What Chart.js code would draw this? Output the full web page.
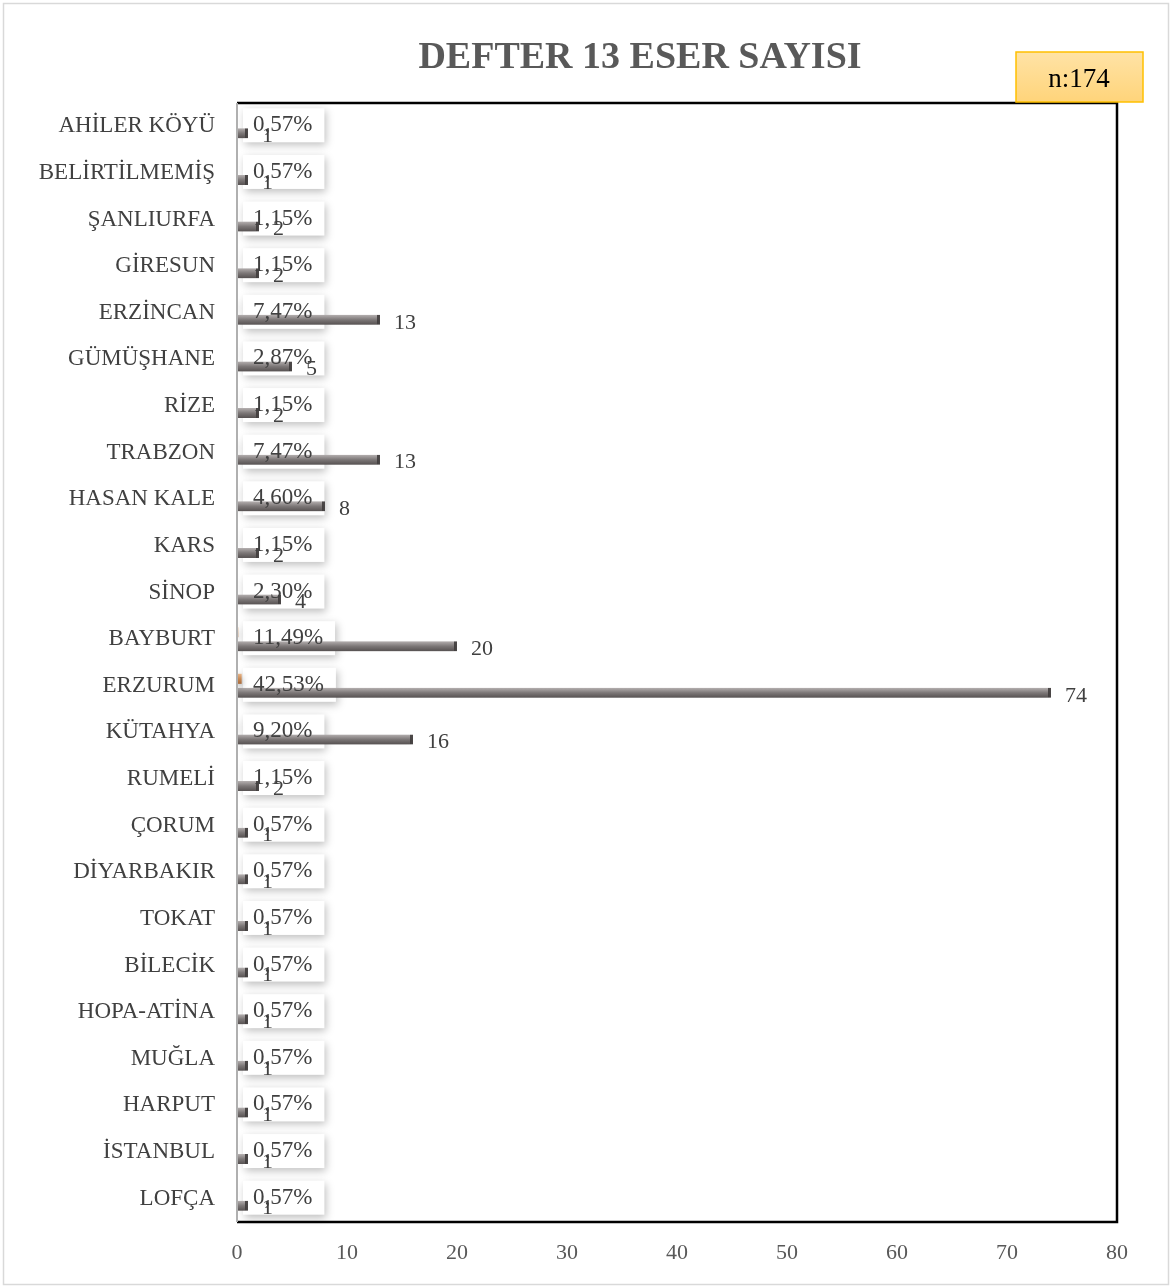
<!DOCTYPE html>
<html>
<head>
<meta charset="utf-8">
<script src="https://cdn.jsdelivr.net/npm/chart.js@4"></script>
<style>
  body { margin: 0; background: #fff; }
  #wrap { width: 1172px; height: 1288px; }
</style>
</head>
<body>
<div id="wrap"><canvas id="chart" width="1172" height="1288"></canvas></div>
<script>
// data, top to bottom as in the picture
const categories = ["AHİLER KÖYÜ", "BELİRTİLMEMİŞ", "ŞANLIURFA", "GİRESUN", "ERZİNCAN", "GÜMÜŞHANE",
  "RİZE", "TRABZON", "HASAN KALE", "KARS", "SİNOP", "BAYBURT", "ERZURUM", "KÜTAHYA", "RUMELİ",
  "ÇORUM", "DİYARBAKIR", "TOKAT", "BİLECİK", "HOPA-ATİNA", "MUĞLA", "HARPUT", "İSTANBUL", "LOFÇA"];
const counts = [1, 1, 2, 2, 13, 5, 2, 13, 8, 2, 4, 20, 74, 16, 2, 1, 1, 1, 1, 1, 1, 1, 1, 1];
const shares = [0.0057, 0.0057, 0.0115, 0.0115, 0.0747, 0.0287, 0.0115, 0.0747, 0.0460, 0.0115, 0.0230,
  0.1149, 0.4253, 0.0920, 0.0115, 0.0057, 0.0057, 0.0057, 0.0057, 0.0057, 0.0057, 0.0057, 0.0057, 0.0057];
const xTicks = [0, 10, 20, 30, 40, 50, 60, 70, 80];
const title = "DEFTER 13 ESER SAYISI";
const nLabel = "n:174";

const SERIF = "'Liberation Serif', 'Times New Roman', serif";
const CAT_PCT = 0.6;

function barGradient(c, stops) {
  const ys = c.chart.scales.y;
  if (!ys || c.type !== 'data') return stops[1];
  const band = ys.height / categories.length;
  const off = band * CAT_PCT / 4;
  const yc = ys.getPixelForValue(c.dataIndex) + (c.datasetIndex === 0 ? -off : off);
  if (!isFinite(yc) || !isFinite(band)) return stops[1];
  const g = c.chart.ctx.createLinearGradient(0, yc - 5, 0, yc + 5);
  g.addColorStop(0, stops[0]);
  g.addColorStop(0.5, stops[1]);
  g.addColorStop(1, stops[2]);
  return g;
}

function pctText(s) {
  return (s * 100).toFixed(2).replace('.', ',') + '%';
}

const decor = {
  id: 'decor',
  beforeDraw(chart) {
    const ctx = chart.ctx;
    ctx.save();
    ctx.fillStyle = '#fff';
    ctx.fillRect(0, 0, chart.width, chart.height);
    ctx.strokeStyle = '#d9d9d9';
    ctx.lineWidth = 1.5;
    ctx.strokeRect(3.5, 3.5, chart.width - 7, chart.height - 7);
    ctx.restore();
  },
  beforeDatasetsDraw(chart) {
    // white label boxes sit behind the bars
    const ctx = chart.ctx;
    const xs = chart.scales.x, ys = chart.scales.y;
    const x0 = xs.getPixelForValue(0);
    ctx.save();
    ctx.font = '23px ' + SERIF;
    shares.forEach((s, i) => {
      const yc = ys.getPixelForValue(i);
      const w = ctx.measureText(pctText(s)).width + 22;
      ctx.save();
      ctx.shadowColor = 'rgba(0,0,0,0.25)';
      ctx.shadowBlur = 8;
      ctx.shadowOffsetX = 2;
      ctx.shadowOffsetY = 3;
      ctx.fillStyle = '#fff';
      ctx.fillRect(x0 + 6, yc - 18, w, 34);
      ctx.restore();
    });
    ctx.restore();
  },
  beforeDatasetDraw(chart, args) {
    const ctx = chart.ctx;
    ctx.save();
    ctx.shadowColor = 'rgba(0,0,0,0.35)';
    ctx.shadowBlur = 6;
    ctx.shadowOffsetY = 3;
  },
  afterDatasetDraw(chart) {
    chart.ctx.restore();
  },
  afterDatasetsDraw(chart) {
    const ctx = chart.ctx;
    const xs = chart.scales.x, ys = chart.scales.y;
    const x0 = xs.getPixelForValue(0);
    ctx.save();
    ctx.font = '23px ' + SERIF;
    ctx.textBaseline = 'middle';
    ctx.textAlign = 'left';
    ctx.fillStyle = '#404040';
    shares.forEach((s, i) => {
      ctx.fillText(pctText(s), x0 + 16, ys.getPixelForValue(i) - 1);
    });
    // count labels
    ctx.font = '22px ' + SERIF;
    const meta = chart.getDatasetMeta(1);
    meta.data.forEach((bar, i) => {
      ctx.fillText(String(counts[i]), bar.x + 14, bar.y + 3);
    });
    ctx.restore();
  },
  afterDraw(chart) {
    const ctx = chart.ctx;
    const a = chart.chartArea;
    ctx.save();
    // plot box
    ctx.strokeStyle = '#000';
    ctx.lineWidth = 2.5;
    ctx.beginPath();
    ctx.moveTo(a.left, a.top);
    ctx.lineTo(a.right, a.top);
    ctx.lineTo(a.right, a.bottom);
    ctx.lineTo(a.left, a.bottom);
    ctx.stroke();
    ctx.strokeStyle = '#b0b0b0';
    ctx.lineWidth = 2;
    ctx.beginPath();
    ctx.moveTo(a.left, a.top);
    ctx.lineTo(a.left, a.bottom);
    ctx.stroke();
    // title
    ctx.fillStyle = '#595959';
    ctx.font = 'bold 38px ' + SERIF;
    ctx.textAlign = 'center';
    ctx.textBaseline = 'middle';
    ctx.fillText(title, 640, 58);
    // n box
    const g = ctx.createLinearGradient(0, 52, 0, 102);
    g.addColorStop(0, '#ffe3a6');
    g.addColorStop(1, '#ffd47a');
    ctx.fillStyle = g;
    ctx.fillRect(1016, 52, 127, 50);
    ctx.strokeStyle = '#ffc000';
    ctx.lineWidth = 1.5;
    ctx.strokeRect(1016, 52, 127, 50);
    ctx.fillStyle = '#000';
    ctx.font = '27px ' + SERIF;
    ctx.fillText(nLabel, 1079, 80);
    ctx.restore();
  }
};

new Chart(document.getElementById('chart'), {
  type: 'bar',
  data: {
    labels: categories,
    datasets: [
      {
        label: 'Oran',
        data: shares,
        backgroundColor: c => barGradient(c, ['#e8b68a', '#c98a55', '#a86a3a']),
        categoryPercentage: CAT_PCT,
        barPercentage: 0.72
      },
      {
        label: 'Eser Sayısı',
        data: counts,
        backgroundColor: c => barGradient(c, ['#b5b0b0', '#7c7777', '#565151']),
        borderColor: '#4e4a4a',
        borderWidth: { right: 3, top: 0, bottom: 0, left: 0 },
        borderSkipped: 'start',
        categoryPercentage: CAT_PCT,
        barPercentage: 0.72
      }
    ]
  },
  options: {
    indexAxis: 'y',
    responsive: false,
    animation: false,
    events: [],
    layout: { padding: { top: 103, right: 55, bottom: 0, left: 0 } },
    plugins: {
      legend: { display: false },
      tooltip: { enabled: false }
    },
    scales: {
      x: {
        min: 0,
        max: 80,
        afterBuildTicks: s => { s.ticks = xTicks.map(v => ({ value: v })); },
        afterFit: s => { s.height = 66; },
        grid: { display: false, drawTicks: false },
        border: { display: false },
        ticks: { color: '#595959', padding: 18, font: { family: SERIF, size: 22 } }
      },
      y: {
        afterFit: s => { s.width = 237; },
        grid: { display: false, drawTicks: false },
        border: { display: false },
        ticks: { color: '#404040', padding: 22, font: { family: SERIF, size: 23 }, autoSkip: false }
      }
    }
  },
  plugins: [decor]
});
</script>
</body>
</html>
